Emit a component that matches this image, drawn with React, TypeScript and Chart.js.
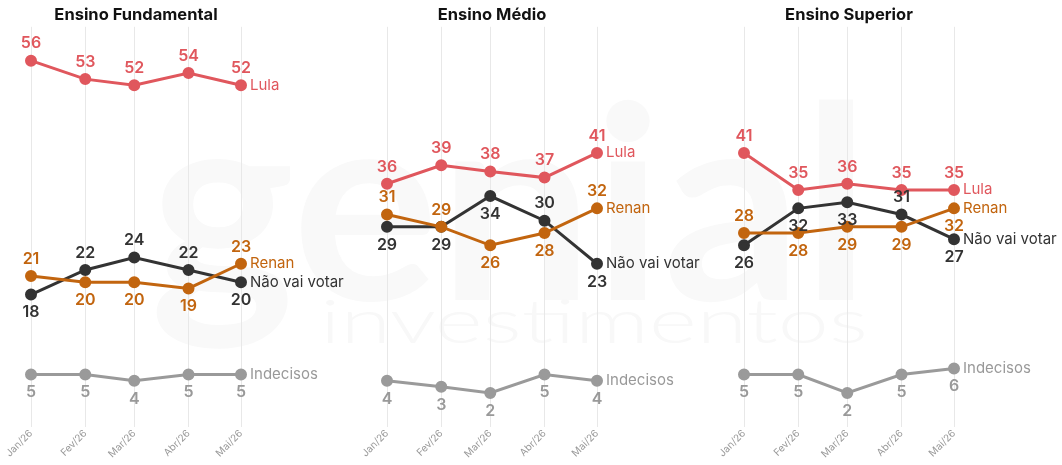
import React, { useEffect, useRef } from "react";
import { Chart, registerables } from "chart.js";

Chart.register(...registerables);

// ---- data ----
const months = ["Jan/26", "Fev/26", "Mar/26", "Abr/26", "Mai/26"];
const monthDays = [0, 31, 59, 90, 120]; // days since 1 Jan 2026

const panelTitles = ["Ensino Fundamental", "Ensino Médio", "Ensino Superior"];
const seriesNames = ["Lula", "Renan", "Não vai votar", "Indecisos"];

const fundLula = [56, 53, 52, 54, 52];
const fundRenan = [21, 20, 20, 19, 23];
const fundNao = [18, 22, 24, 22, 20];
const fundIndec = [5, 5, 4, 5, 5];

const medLula = [36, 39, 38, 37, 41];
const medRenan = [31, 29, 26, 28, 32];
const medNao = [29, 29, 34, 30, 23];
const medIndec = [4, 3, 2, 5, 4];

const supLula = [41, 35, 36, 35, 35];
const supRenan = [28, 28, 29, 29, 32];
const supNao = [26, 32, 33, 31, 27];
const supIndec = [5, 5, 2, 5, 6];

// label placement (a = above, b = below)
const fundSides = ["aaaaa", "abbba", "baaab", "bbbbb"];
const medSides = ["aaaaa", "aabba", "bbbab", "bbbbb"];
const supSides = ["aaaaa", "abbbb", "bbbab", "bbbbb"];

const lineColors = ["#e0575d", "#c2650f", "#333333", "#9a9a9a"];
const textColors = ["#e0575d", "#c2650f", "#333333", "#999999"];

const FONT = "Inter, 'Noto Sans', sans-serif";

const labelPlugin = {
  id: "pointLabels",
  afterDatasetsDraw(chart: any) {
    const ctx = chart.ctx;
    chart.data.datasets.forEach((ds: any, i: number) => {
      const meta = chart.getDatasetMeta(i);
      ctx.save();
      ctx.fillStyle = ds.textColor;
      ctx.textBaseline = "middle";
      ctx.textAlign = "center";
      ctx.font = `600 16px ${FONT}`;
      meta.data.forEach((pt: any, j: number) => {
        const v = ds.data[j].y;
        const above = ds.sides[j] === "a";
        ctx.fillText(String(v), pt.x, above ? pt.y - 17 : pt.y + 18);
      });
      const last = meta.data[meta.data.length - 1];
      ctx.textAlign = "left";
      ctx.font = `400 15px ${FONT}`;
      ctx.fillText(ds.label, last.x + 9, last.y);
      ctx.restore();
    });
  },
};

function Panel(props: { title: string; series: number[][]; sides: string[]; left: number }) {
  const ref = useRef<HTMLCanvasElement>(null);
  useEffect(() => {
    if (!ref.current) return;
    const datasets = props.series.map((vals, i) => ({
      label: seriesNames[i],
      data: vals.map((v, j) => ({ x: monthDays[j], y: v })),
      borderColor: lineColors[i],
      backgroundColor: lineColors[i],
      pointBackgroundColor: lineColors[i],
      pointBorderColor: lineColors[i],
      borderWidth: 3,
      pointRadius: 4.5,
      pointHoverRadius: 4.5,
      tension: 0,
      clip: false,
      textColor: textColors[i],
      sides: props.sides[i].split(""),
    }));
    const chart = new Chart(ref.current, {
      type: "line",
      data: { datasets } as any,
      plugins: [labelPlugin],
      options: {
        animation: false,
        responsive: false,
        layout: { padding: { left: 31, right: 109, top: 0, bottom: 5 } },
        plugins: {
          legend: { display: false },
          tooltip: { enabled: false },
          title: {
            display: true,
            text: props.title,
            fullSize: false,
            color: "#111111",
            font: { family: FONT, size: 16.5, weight: "bold" },
            padding: { top: 5, bottom: 2 },
          },
        },
        scales: {
          x: {
            type: "linear",
            min: 0,
            max: 120,
            afterBuildTicks: (axis: any) => {
              axis.ticks = monthDays.map((d) => ({ value: d }));
            },
            ticks: {
              autoSkip: false,
              minRotation: 45,
              maxRotation: 45,
              padding: 0,
              color: "#9a9a9a",
              font: { family: FONT, size: 10 },
              callback: (v: any) => {
                const k = monthDays.indexOf(Number(v));
                return k >= 0 ? months[k] : "";
              },
            },
            grid: { color: "#e8e8e8", lineWidth: 1, drawTicks: false },
            border: { display: false },
          },
          y: {
            display: false,
            min: -3.6,
            max: 61.5,
          },
        },
      } as any,
    });
    return () => chart.destroy();
  }, []);
  return (
    <canvas
      ref={ref}
      width={350}
      height={465}
      style={{ position: "absolute", left: props.left, top: 0, width: 350, height: 465 }}
    />
  );
}

export default function App() {
  return (
    <div
      style={{
        position: "absolute",
        left: 0,
        top: 0,
        width: 1062,
        height: 465,
        background: "#ffffff",
        overflow: "hidden",
      }}
    >
      <svg width={1062} height={465} style={{ position: "absolute", left: 0, top: 0 }}>
        <text
          x={150}
          y={300}
          textLength={720}
          lengthAdjust="spacingAndGlyphs"
          fontFamily="Lato, sans-serif"
          fontWeight={700}
          fontSize={270}
          fill="#f9f9f9"
        >
          genial
        </text>
        <text
          x={320}
          y={343}
          textLength={548}
          lengthAdjust="spacingAndGlyphs"
          fontFamily="Lato, sans-serif"
          fontWeight={300}
          fontSize={62}
          fill="#f8f8f8"
        >
          investimentos
        </text>
      </svg>
      <Panel title={panelTitles[0]} series={[fundLula, fundRenan, fundNao, fundIndec]} sides={fundSides} left={0} />
      <Panel title={panelTitles[1]} series={[medLula, medRenan, medNao, medIndec]} sides={medSides} left={356} />
      <Panel title={panelTitles[2]} series={[supLula, supRenan, supNao, supIndec]} sides={supSides} left={713} />
    </div>
  );
}
